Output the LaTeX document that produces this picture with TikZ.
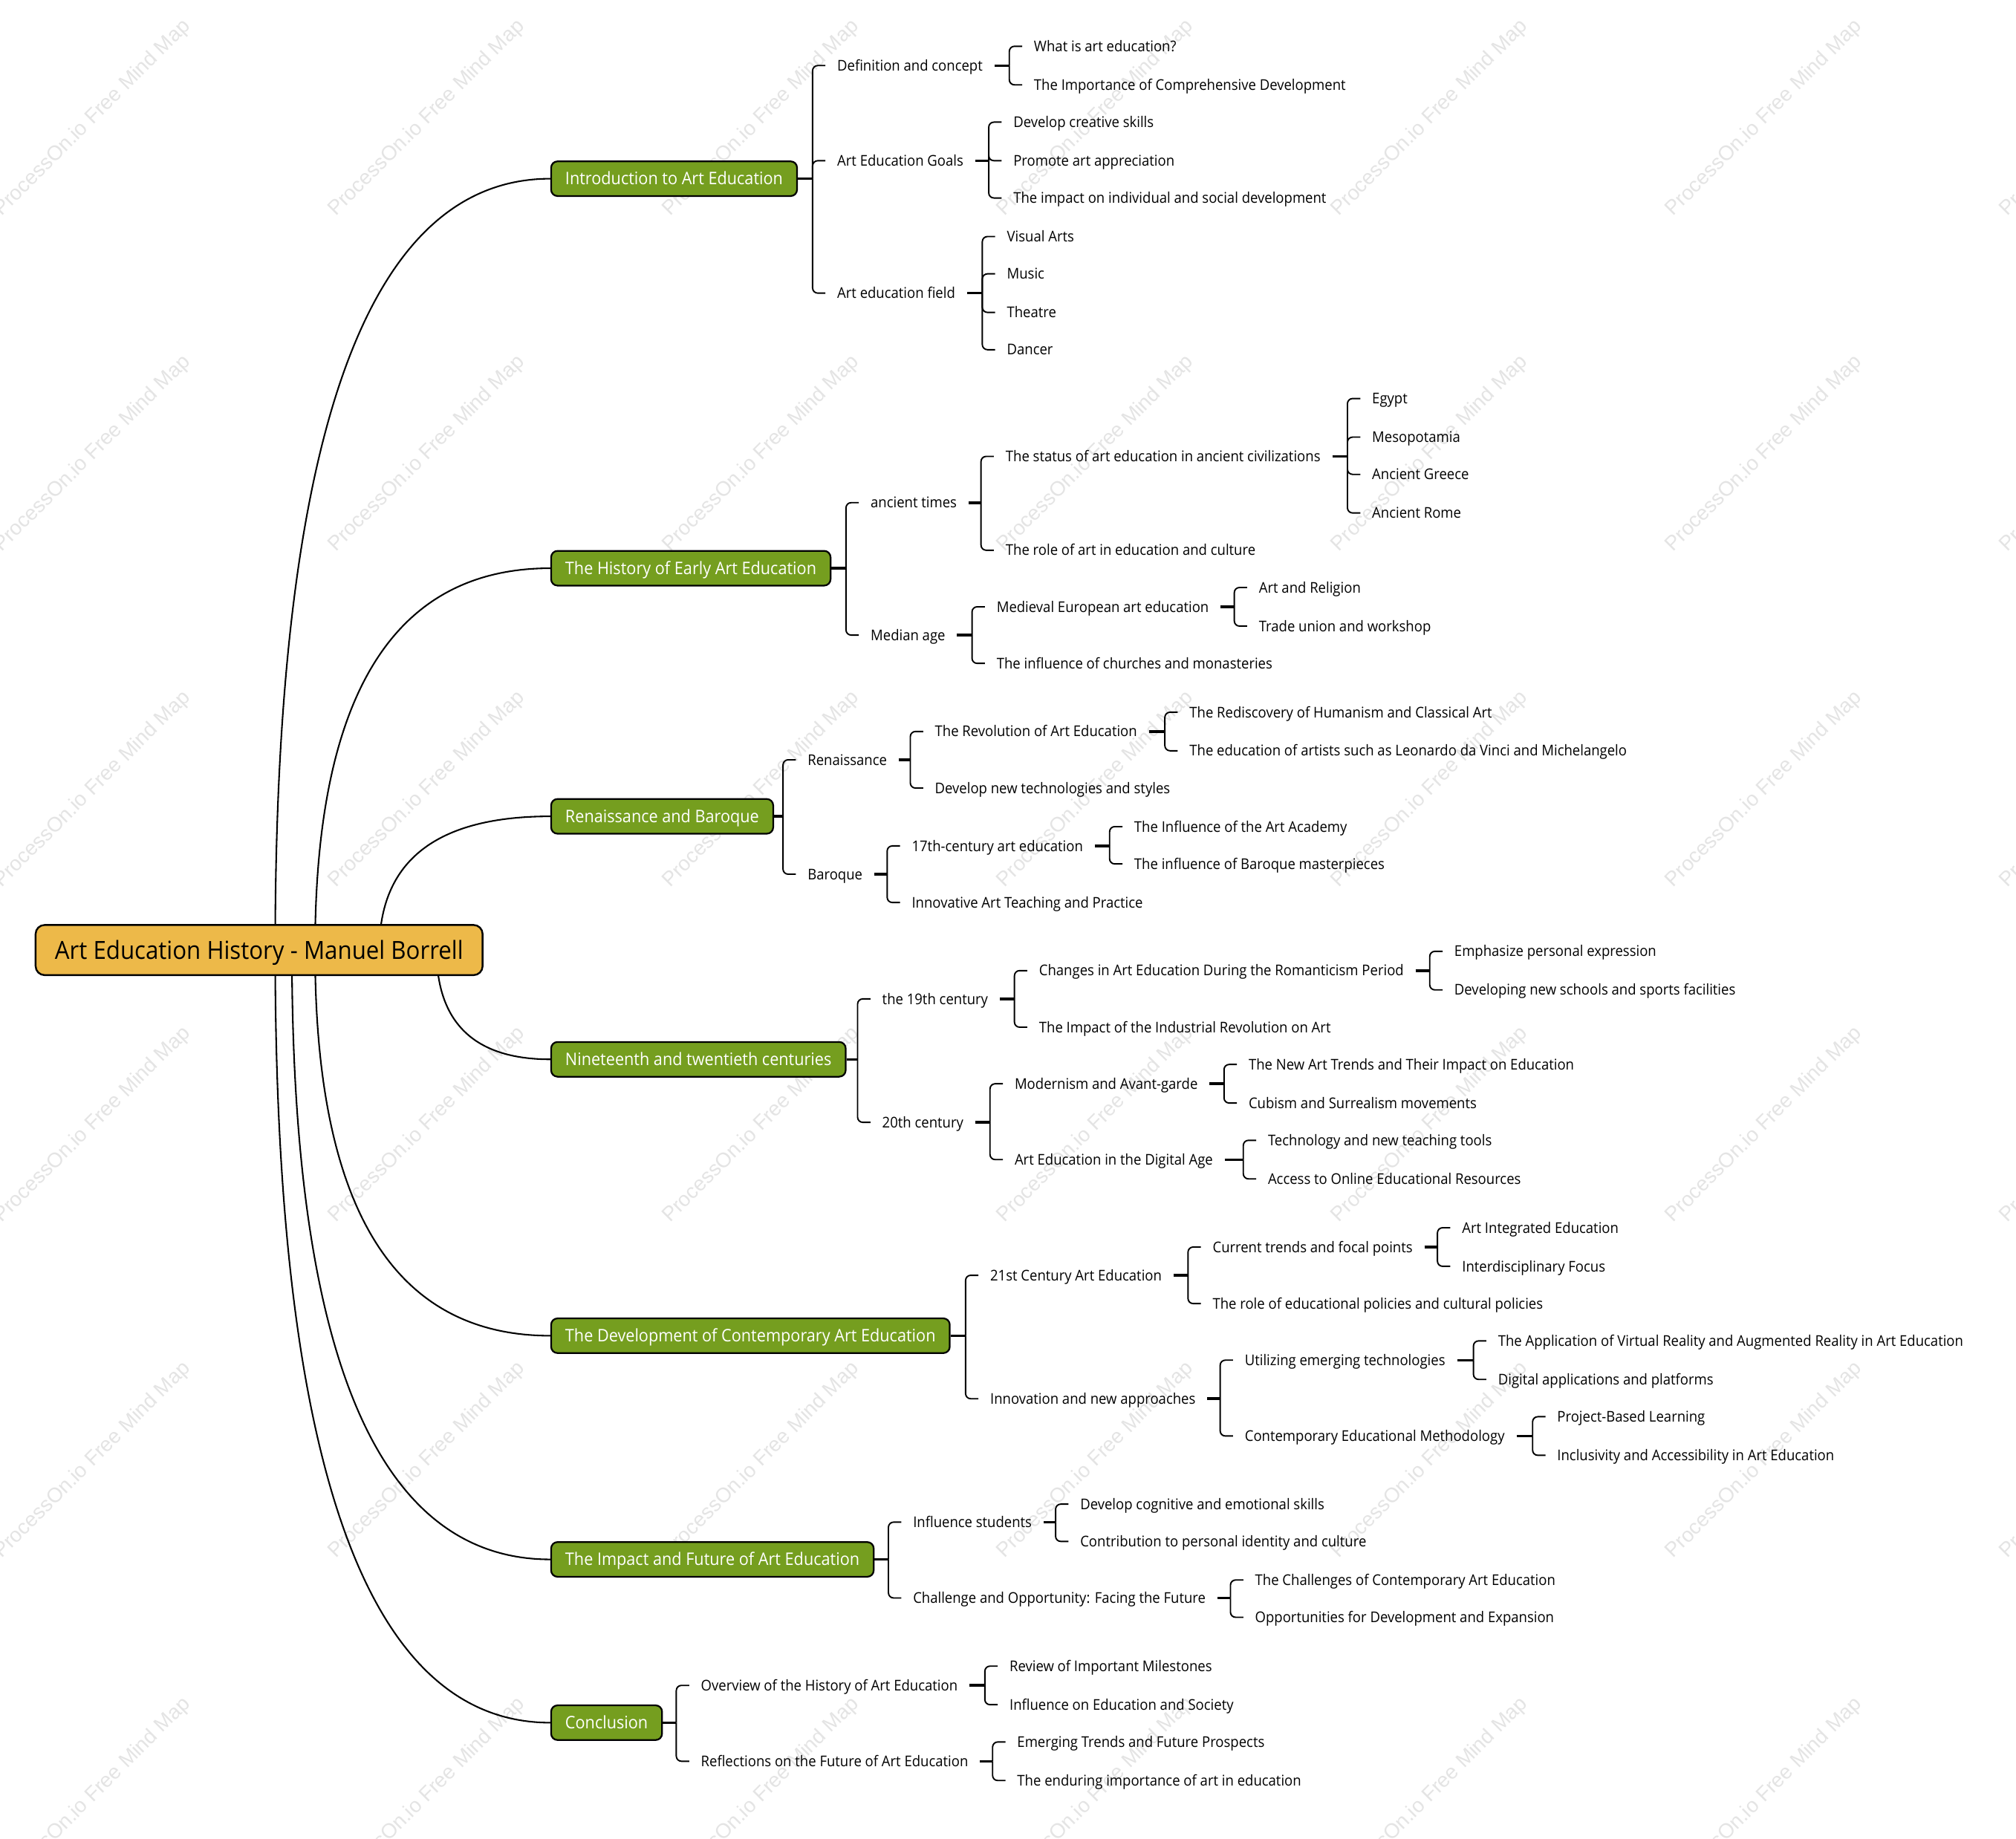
\documentclass[tikz,border=0pt]{standalone}
\usepackage{fontspec}
\setmainfont{Open Sans}[FakeStretch=0.93]
\newfontfamily\wmfont{Liberation Sans}
\usetikzlibrary{calc,backgrounds}
\definecolor{lgreen}{RGB}{117,158,31}
\definecolor{rootfill}{RGB}{237,185,73}
\definecolor{wmgray}{RGB}{228,228,228}
\newcommand\leaffont{\fontsize{11.5}{13}\selectfont}
\newcommand\lonefont{\fontsize{13.45}{15}\selectfont}
\newcommand\rootfont{\fontsize{19.4}{22}\selectfont}
\newcommand\kids[3]{%
  \coordinate (#1-s) at ([xshift=-10pt]#2.west |- #1.east);
  \draw[plink] (#1.east) -- (#1-s);
  \foreach \kid in {#3}{\draw[brk] (#1-s) |- (\kid.west);}}
\newcommand\rlink[2]{%
  \coordinate (#2-r) at ([xshift=#1]root.center);
  \coordinate (#2-k) at (#2-r |- #2.west);
  \draw[curve] (#2-r) .. controls ($(#2-r)!0.6667!(#2-k)$) and ($(#2.west)!0.6667!(#2-k)$) .. (#2.west);}
\tikzset{
  leaf/.style={anchor=west, inner xsep=9pt, inner ysep=2pt, font=\leaffont, text height=8.2pt, text depth=0pt},
  l1/.style={anchor=west, draw=black, line width=1.3pt, fill=lgreen, text=white, rounded corners=5pt,
    inner xsep=11pt, inner ysep=0pt, minimum height=27pt, font=\lonefont, text height=9.6pt, text depth=0pt},
  rootbox/.style={anchor=west, draw=black, line width=1.4pt, fill=rootfill, rounded corners=7pt,
    inner xsep=15pt, inner ysep=0pt, minimum height=39pt, font=\rootfont, text height=13.85pt, text depth=0pt},
  plink/.style={line width=2pt},
  brk/.style={line width=1.1pt, rounded corners=4pt},
  curve/.style={line width=1.2pt},
  wm/.style={font=\wmfont\fontsize{16}{18}\selectfont, text=wmgray, rotate=45, inner sep=0pt}
}
\begin{document}
\begin{tikzpicture}[x=1pt,y=-1pt]
\useasboundingbox (0,0) rectangle (1568,1430);

% ---------- root and main branches
\node[rootbox] (root) at (27,739) {Art Education History - Manuel Borrell};
\node[l1] (intro) at (428,139) {Introduction to Art Education};
\node[l1] (hist) at (428,442) {The History of Early Art Education};
\node[l1] (ren) at (428,635) {Renaissance and Baroque};
\node[l1] (nine) at (428,824) {Nineteenth and twentieth centuries};
\node[l1] (dev) at (428,1039) {The Development of Contemporary Art Education};
\node[l1] (imp) at (428,1213) {The Impact and Future of Art Education};
\node[l1] (conc) at (428,1340) {Conclusion};

% ---------- Introduction
\node[leaf] (d1) at (642,51) {Definition and concept};
\node[leaf] (d2) at (642,125) {Art Education Goals};
\node[leaf] (d3) at (642,228) {Art education field};
\node[leaf] (d11) at (795,36) {What is art education?};
\node[leaf] (d12) at (795,66) {The Importance of Comprehensive Development};
\node[leaf] (d21) at (779,95) {Develop creative skills};
\node[leaf] (d22) at (779,125) {Promote art appreciation};
\node[leaf] (d23) at (779,154) {The impact on individual and social development};
\node[leaf] (d31) at (774,184) {Visual Arts};
\node[leaf] (d32) at (774,213) {Music};
\node[leaf] (d33) at (774,243) {Theatre};
\node[leaf] (d34) at (774,272) {Dancer};

% ---------- History
\node[leaf] (h1) at (668,391) {ancient times};
\node[leaf] (h2) at (668,494) {Median age};
\node[leaf] (h11) at (773,355) {The status of art education in ancient civilizations};
\node[leaf] (h12) at (773,428) {The role of art in education and culture};
\node[leaf] (h111) at (1058,310) {Egypt};
\node[leaf] (h112) at (1058,340) {Mesopotamia};
\node[leaf] (h113) at (1058,369) {Ancient Greece};
\node[leaf] (h114) at (1058,399) {Ancient Rome};
\node[leaf] (h21) at (766,472) {Medieval European art education};
\node[leaf] (h22) at (766,516) {The influence of churches and monasteries};
\node[leaf] (h211) at (970,457) {Art and Religion};
\node[leaf] (h212) at (970,487) {Trade union and workshop};

% ---------- Renaissance and Baroque
\node[leaf] (r1) at (619,591) {Renaissance};
\node[leaf] (r2) at (619,680) {Baroque};
\node[leaf] (r11) at (718,569) {The Revolution of Art Education};
\node[leaf] (r12) at (718,613) {Develop new technologies and styles};
\node[leaf] (r111) at (916,554) {The Rediscovery of Humanism and Classical Art};
\node[leaf] (r112) at (916,584) {The education of artists such as Leonardo da Vinci and Michelangelo};
\node[leaf] (r21) at (700,658) {17th-century art education};
\node[leaf] (r22) at (700,702) {Innovative Art Teaching and Practice};
\node[leaf] (r211) at (873,643) {The Influence of the Art Academy};
\node[leaf] (r212) at (873,672) {The influence of Baroque masterpieces};

% ---------- Nineteenth and twentieth
\node[leaf] (n1) at (677,777) {the 19th century};
\node[leaf] (n2) at (677,873) {20th century};
\node[leaf] (n11) at (799,755) {Changes in Art Education During the Romanticism Period};
\node[leaf] (n12) at (799,799) {The Impact of the Industrial Revolution on Art};
\node[leaf] (n111) at (1122,740) {Emphasize personal expression};
\node[leaf] (n112) at (1122,770) {Developing new schools and sports facilities};
\node[leaf] (n21) at (780,843) {Modernism and Avant-garde};
\node[leaf] (n22) at (780,902) {Art Education in the Digital Age};
\node[leaf] (n211) at (962,828) {The New Art Trends and Their Impact on Education};
\node[leaf] (n212) at (962,858) {Cubism and Surrealism movements};
\node[leaf] (n221) at (977,887) {Technology and new teaching tools};
\node[leaf] (n222) at (977,917) {Access to Online Educational Resources};

% ---------- Development of Contemporary
\node[leaf] (c1) at (761,992) {21st Century Art Education};
\node[leaf] (c2) at (761,1088) {Innovation and new approaches};
\node[leaf] (c11) at (934,970) {Current trends and focal points};
\node[leaf] (c12) at (934,1014) {The role of educational policies and cultural policies};
\node[leaf] (c111) at (1128,955) {Art Integrated Education};
\node[leaf] (c112) at (1128,985) {Interdisciplinary Focus};
\node[leaf] (c21) at (959,1058) {Utilizing emerging technologies};
\node[leaf] (c22) at (959,1117) {Contemporary Educational Methodology};
\node[leaf] (c211) at (1156,1043) {The Application of Virtual Reality and Augmented Reality in Art Education};
\node[leaf] (c212) at (1156,1073) {Digital applications and platforms};
\node[leaf] (c221) at (1202,1102) {Project-Based Learning};
\node[leaf] (c222) at (1202,1132) {Inclusivity and Accessibility in Art Education};

% ---------- Impact and Future
\node[leaf] (i1) at (701,1184) {Influence students};
\node[leaf] (i2) at (701,1243) {Challenge and Opportunity: Facing the Future};
\node[leaf] (i11) at (831,1170) {Develop cognitive and emotional skills};
\node[leaf] (i12) at (831,1199) {Contribution to personal identity and culture};
\node[leaf] (i21) at (967,1229) {The Challenges of Contemporary Art Education};
\node[leaf] (i22) at (967,1258) {Opportunities for Development and Expansion};

% ---------- Conclusion
\node[leaf] (k1) at (536,1311) {Overview of the History of Art Education};
\node[leaf] (k2) at (536,1370) {Reflections on the Future of Art Education};
\node[leaf] (k11) at (776,1296) {Review of Important Milestones};
\node[leaf] (k12) at (776,1326) {Influence on Education and Society};
\node[leaf] (k21) at (782,1355) {Emerging Trends and Future Prospects};
\node[leaf] (k22) at (782,1385) {The enduring importance of art in education};

% ---------- bracket connectors
\kids{intro}{d1}{d1,d2,d3}
\kids{d1}{d11}{d11,d12}
\kids{d2}{d21}{d21,d22,d23}
\kids{d3}{d31}{d31,d32,d33,d34}
\kids{hist}{h1}{h1,h2}
\kids{h1}{h11}{h11,h12}
\kids{h11}{h111}{h111,h112,h113,h114}
\kids{h2}{h21}{h21,h22}
\kids{h21}{h211}{h211,h212}
\kids{ren}{r1}{r1,r2}
\kids{r1}{r11}{r11,r12}
\kids{r11}{r111}{r111,r112}
\kids{r2}{r21}{r21,r22}
\kids{r21}{r211}{r211,r212}
\kids{nine}{n1}{n1,n2}
\kids{n1}{n11}{n11,n12}
\kids{n11}{n111}{n111,n112}
\kids{n2}{n21}{n21,n22}
\kids{n21}{n211}{n211,n212}
\kids{n22}{n221}{n221,n222}
\kids{dev}{c1}{c1,c2}
\kids{c1}{c11}{c11,c12}
\kids{c11}{c111}{c111,c112}
\kids{c2}{c21}{c21,c22}
\kids{c21}{c211}{c211,c212}
\kids{c22}{c221}{c221,c222}
\kids{imp}{i1}{i1,i2}
\kids{i1}{i11}{i11,i12}
\kids{i2}{i21}{i21,i22}
\kids{conc}{k1}{k1,k2}
\kids{k1}{k11}{k11,k12}
\kids{k2}{k21}{k21,k22}

% ---------- background: watermark and root curves
\begin{pgfonlayer}{background}
\fill[white] (0,0) rectangle (1568,1430);
\foreach \i in {0,...,6}{\foreach \j in {0,...,5}{
  \node[wm] (wm-\i-\j) at ({72+260*\i},{92+261*\j}) {ProcessOn.io Free Mind Map};}}
\rlink{12.5pt}{intro}
\rlink{43.5pt}{hist}
\rlink{93.5pt}{ren}
\rlink{138pt}{nine}
\rlink{43.5pt}{dev}
\rlink{25.5pt}{imp}
\rlink{12.5pt}{conc}
\end{pgfonlayer}
\end{tikzpicture}
\end{document}
